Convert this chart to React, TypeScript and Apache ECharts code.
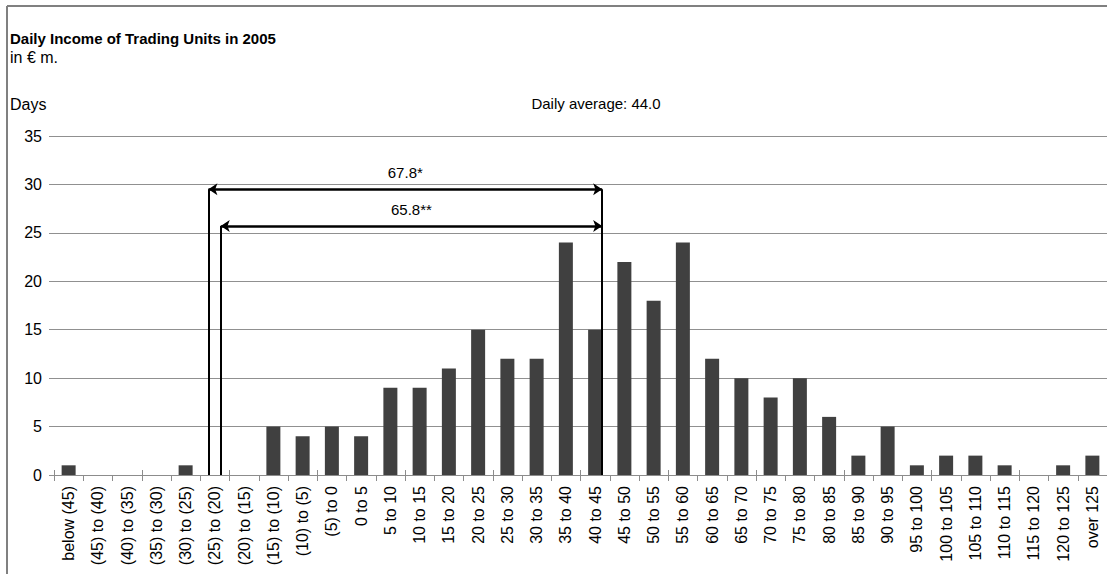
import React, { useEffect, useRef } from "react";
import * as echarts from "echarts";

const categories: string[] = [
  "below (45)", "(45) to (40)", "(40) to (35)", "(35) to (30)", "(30) to (25)",
  "(25) to (20)", "(20) to (15)", "(15) to (10)", "(10) to (5)", "(5) to 0",
  "0 to 5", "5 to 10", "10 to 15", "15 to 20", "20 to 25", "25 to 30",
  "30 to 35", "35 to 40", "40 to 45", "45 to 50", "50 to 55", "55 to 60",
  "60 to 65", "65 to 70", "70 to 75", "75 to 80", "80 to 85", "85 to 90",
  "90 to 95", "95 to 100", "100 to 105", "105 to 110", "110 to 115",
  "115 to 120", "120 to 125", "over 125",
];

const days: number[] = [
  1, 0, 0, 0, 1, 0, 0, 5, 4, 5, 4, 9, 9, 11, 15, 12, 12, 24, 15, 22, 18, 24,
  12, 10, 8, 10, 6, 2, 5, 1, 2, 2, 1, 0, 1, 2,
];

const yTicks = { min: 0, max: 35, interval: 5 };

// annotation (in category-index units along a hidden value axis)
const arrowStarts: number[] = [5.28, 5.7];
const arrowEnd = 18.74;
const arrowLevels: number[] = [29.5, 25.7];
const arrowLabels: string[] = ["67.8*", "65.8**"];

const FONT = "'Liberation Sans', Arial, Helvetica, sans-serif";

export default function App() {
  const ref = useRef<HTMLDivElement>(null);
  useEffect(() => {
    if (!ref.current) return;
    const chart = echarts.init(ref.current, undefined, { renderer: "svg" });
    const n = categories.length;

    const arrowData = arrowLevels.map((lvl, i) => ({
      coords: [
        [arrowStarts[i], lvl],
        [arrowEnd, lvl],
      ],
      label: { formatter: arrowLabels[i] },
    }));
    const verticalData = [
      { coords: [[arrowStarts[0], 0], [arrowStarts[0], arrowLevels[0]]] },
      { coords: [[arrowStarts[1], 0], [arrowStarts[1], arrowLevels[1]]] },
      { coords: [[arrowEnd, 0], [arrowEnd, arrowLevels[0]]] },
    ];

    chart.setOption({
      animation: false,
      textStyle: { fontFamily: FONT },
      title: [
        {
          text: "Daily Income of Trading Units in 2005",
          subtext: "in € m.",
          left: 10,
          top: 31,
          itemGap: 3,
          textStyle: { fontFamily: FONT, fontSize: 15, fontWeight: "bold", color: "#000" },
          subtextStyle: { fontFamily: FONT, fontSize: 16, color: "#000" },
          padding: 0,
        },
        {
          text: "Days",
          left: 10,
          top: 96,
          padding: 0,
          textStyle: { fontFamily: FONT, fontSize: 16, fontWeight: "normal", color: "#000" },
        },
        {
          text: "Daily average: 44.0",
          left: 596,
          textAlign: "center",
          top: 96,
          padding: 0,
          textStyle: { fontFamily: FONT, fontSize: 15, fontWeight: "normal", color: "#000" },
        },
      ],
      graphic: [
        { type: "line", shape: { x1: 7, y1: 6, x2: 1107, y2: 6 }, style: { stroke: "#808080", lineWidth: 2 } },
        { type: "line", shape: { x1: 7, y1: 6, x2: 7, y2: 574 }, style: { stroke: "#808080", lineWidth: 2 } },
      ],
      grid: { left: 54, right: 0, top: 136, bottom: 99, containLabel: false },
      xAxis: [
        {
          type: "category",
          data: categories,
          axisLine: { lineStyle: { color: "#8c8c8c", width: 1 } },
          axisTick: { show: true, length: 6, lineStyle: { color: "#8c8c8c" } },
          axisLabel: {
            interval: 0,
            rotate: 90,
            fontSize: 16,
            color: "#000",
            margin: 11,
            fontFamily: FONT,
          },
        },
        { type: "value", min: 0, max: n, show: false },
        {
          type: "category",
          data: categories,
          position: "bottom",
          axisLine: { show: false },
          axisTick: { show: true, inside: true, length: 5, lineStyle: { color: "#8c8c8c" } },
          axisLabel: { show: false },
        },
      ],
      yAxis: {
        type: "value",
        min: yTicks.min,
        max: yTicks.max,
        interval: yTicks.interval,
        axisLine: { show: false },
        axisTick: { show: true, length: 5, lineStyle: { color: "#909090" } },
        splitLine: { lineStyle: { color: "#909090", width: 1 } },
        axisLabel: { fontSize: 16, color: "#000", margin: 12, fontFamily: FONT },
      },
      series: [
        {
          type: "bar",
          data: days,
          xAxisIndex: 0,
          barWidth: 14,
          itemStyle: { color: "#404040" },
        },
        {
          type: "lines",
          coordinateSystem: "cartesian2d",
          xAxisIndex: 1,
          yAxisIndex: 0,
          symbol: "none",
          lineStyle: { color: "#000", width: 2, opacity: 1 },
          data: verticalData,
          z: 5,
        },
        {
          type: "lines",
          coordinateSystem: "cartesian2d",
          xAxisIndex: 1,
          yAxisIndex: 0,
          symbol: ["arrow", "arrow"],
          symbolSize: 9,
          lineStyle: { color: "#000", width: 2.5, opacity: 1 },
          label: {
            show: true,
            position: "middle",
            distance: 9,
            fontSize: 15,
            color: "#000",
            fontFamily: FONT,
          },
          data: arrowData,
          z: 6,
        },
      ],
    });
    return () => chart.dispose();
  }, []);

  return (
    <div
      ref={ref}
      style={{ position: "absolute", left: 0, top: 0, width: 1107, height: 574, background: "#fff" }}
    />
  );
}
